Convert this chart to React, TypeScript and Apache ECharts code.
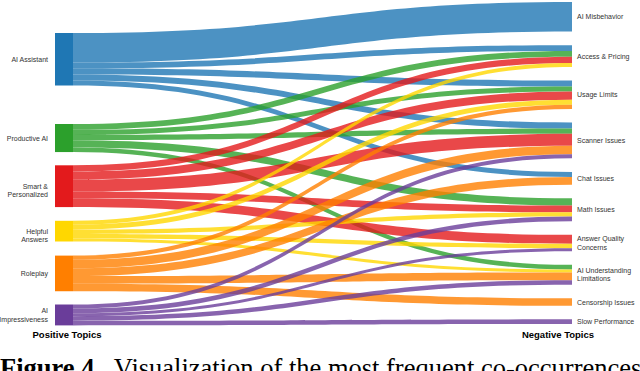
import React, { useEffect, useRef } from 'react';
import * as echarts from 'echarts';

// ---- data ----
const positiveTopics = ['AI Assistant', 'Productive AI', 'Smart & Personalized', 'Helpful Answers', 'Roleplay', 'AI Impressiveness'];
const positiveLabels = ['AI Assistant', 'Productive AI', 'Smart &\nPersonalized', 'Helpful\nAnswers', 'Roleplay', 'AI\nImpressiveness'];
const negativeTopics = ['AI Misbehavior', 'Access & Pricing', 'Usage Limits', 'Scanner Issues', 'Chat Issues', 'Math Issues', 'Answer Quality Concerns', 'AI Understanding Limitations', 'Censorship Issues', 'Slow Performance'];
const negativeLabels = ['AI Misbehavior', 'Access & Pricing', 'Usage Limits', 'Scanner Issues', 'Chat Issues', 'Math Issues', 'Answer Quality\nConcerns', 'AI Understanding\nLimitations', 'Censorship Issues', 'Slow Performance'];

// co-occurrence weights, one row per positive topic, columns follow negativeTopics
const aiAssistantLinks = [29.3, 5.7, 6, 6, 5, 0, 0, 0, 0, 0];
const productiveAiLinks = [0, 5.8, 5, 5.2, 0, 7.2, 0, 4.6, 0, 0];
const smartPersonalizedLinks = [0, 6.2, 8, 11.8, 0, 6.6, 8.8, 0, 0, 0];
const helpfulAnswersLinks = [0, 3.8, 5, 0, 0, 4.3, 4.4, 3, 0, 0];
const roleplayLinks = [0, 0, 4.2, 8.4, 7.7, 0, 0, 7.6, 7.4, 0];
const aiImpressivenessLinks = [0, 0, 0, 4, 0, 4.6, 3, 4.5, 0, 4.6];
const linkRows = [aiAssistantLinks, productiveAiLinks, smartPersonalizedLinks, helpfulAnswersLinks, roleplayLinks, aiImpressivenessLinks];

// ---- styling / layout ----
const positiveColors = ['#1f77b4', '#2ca02c', '#e31a1c', '#ffd700', '#ff7f00', '#6a3d9a'];
const positiveLabelShift = [0, 0, 4, 4, 0, 0];
const chartTop = 2;
const chartHeight = 322;
const positiveNodeTops = [33, 124, 165.3, 220.8, 255.6, 304.5];
const labelColor = '#333333';
const labelFont = 'Liberation Sans, Arial, sans-serif';

export default function App() {
  const ref = useRef<HTMLDivElement>(null);
  useEffect(() => {
    if (!ref.current) return;
    const chart = echarts.init(ref.current, undefined, { renderer: 'svg' });
    const labelMap: Record<string, string> = {};
    positiveTopics.forEach((n, i) => (labelMap[n] = positiveLabels[i]));
    negativeTopics.forEach((n, i) => (labelMap[n] = negativeLabels[i]));

    const nodes: any[] = [
      ...positiveTopics.map((name, i) => ({
        name,
        depth: 0,
        localY: (positiveNodeTops[i] - chartTop) / chartHeight,
        itemStyle: { color: positiveColors[i], opacity: 1 },
        label: { position: 'left', distance: 7, align: 'right', color: labelColor, offset: [0, positiveLabelShift[i]] },
      })),
      ...negativeTopics.map((name) => ({
        name,
        depth: 1,
        itemStyle: { color: '#999999', opacity: 0 },
        label: { position: 'insideLeft', distance: 5, align: 'left', color: labelColor },
      })),
    ];
    const links: any[] = [];
    linkRows.forEach((row, i) => {
      row.forEach((v, j) => {
        if (v > 0) links.push({ source: positiveTopics[i], target: negativeTopics[j], value: v });
      });
    });

    chart.setOption({
      animation: false,
      series: [
        {
          type: 'sankey',
          left: 55,
          top: chartTop,
          width: 535,
          height: chartHeight,
          nodeWidth: 18,
          nodeGap: 13.6,
          layoutIterations: 0,
          draggable: false,
          emphasis: { disabled: true },
          data: nodes,
          links,
          label: {
            show: true,
            fontSize: 7,
            fontFamily: labelFont,
            color: labelColor,
            lineHeight: 8.3,
            formatter: (p: any) => labelMap[p.name] ?? p.name,
          },
          itemStyle: { borderWidth: 0 },
          lineStyle: { color: 'source', opacity: 0.8, curveness: 0.5 },
        },
      ],
      graphic: [
        {
          type: 'text',
          x: 67,
          y: 334,
          style: {
            text: 'Positive Topics',
            fontSize: 9.5,
            fontWeight: 'bold',
            fontFamily: labelFont,
            fill: '#000',
            align: 'center',
            verticalAlign: 'middle',
          },
        },
        {
          type: 'text',
          x: 558,
          y: 334,
          style: {
            text: 'Negative Topics',
            fontSize: 9.5,
            fontWeight: 'bold',
            fontFamily: labelFont,
            fill: '#000',
            align: 'center',
            verticalAlign: 'middle',
          },
        },
        {
          type: 'text',
          x: 0,
          y: 368,
          style: {
            text: '{b|Figure 4.}  Visualization of the most frequent co-occurrences',
            fontSize: 26.5,
            fontFamily: 'Liberation Serif, Times New Roman, serif',
            fill: '#000',
            align: 'left',
            verticalAlign: 'middle',
            rich: {
              b: { fontSize: 26.5, fontWeight: 'bold', fontFamily: 'Liberation Serif, Times New Roman, serif', fill: '#000' },
            },
          },
        },
      ],
    });
    return () => chart.dispose();
  }, []);
  return <div ref={ref} style={{ position: 'absolute', left: 0, top: 0, width: 640, height: 371 }} />;
}
